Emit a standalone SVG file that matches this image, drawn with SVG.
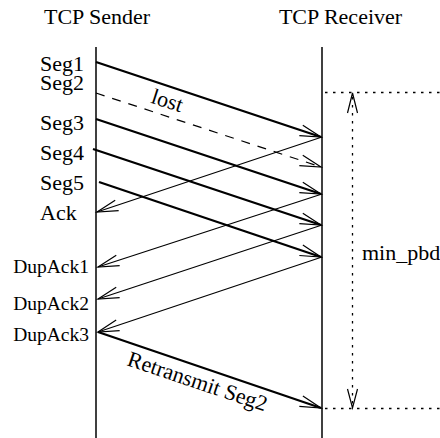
<svg xmlns="http://www.w3.org/2000/svg" width="440" height="438" viewBox="0 0 440 438">
<style>
text{font-family:"Liberation Serif","Times New Roman",serif;fill:#000}
.t{font-size:22px}
.s{font-size:22px}
.d{font-size:19.5px}
.life{stroke:#000;stroke-width:1.5;fill:none}
.thick{stroke:#000;stroke-width:2.3;fill:none;marker-end:url(#ah)}
.thin{stroke:#000;stroke-width:1.2;fill:none;marker-end:url(#ah)}
.dash{stroke:#000;stroke-width:1.2;fill:none;stroke-dasharray:9 8;marker-end:url(#ah)}
.dot{stroke:#000;stroke-width:1.3;fill:none;stroke-dasharray:2.5 5.5}
.head{stroke:#000;stroke-width:1.2;fill:none}
</style>
<defs>
<marker id="ah" markerUnits="userSpaceOnUse" viewBox="-25 -12 30 24" refX="0" refY="0" markerWidth="30" markerHeight="24" orient="auto">
<path d="M-21,-5.5 L0,0 L-21,5.5" stroke="#000" stroke-width="1.2" fill="none"/>
</marker>
</defs>
<rect width="440" height="438" fill="#fff"/>
<g id="sender">
<text class="t" x="97" y="24" text-anchor="middle">TCP Sender</text>
<line class="life" x1="96" y1="47" x2="96" y2="438"/>
</g>
<g id="receiver">
<text class="t" x="340.5" y="24" text-anchor="middle">TCP Receiver</text>
<line class="life" x1="322" y1="47" x2="322" y2="438"/>
</g>
<g id="labels">
<text class="s" x="40" y="71">Seg1</text>
<text class="s" x="40" y="90">Seg2</text>
<text class="s" x="40" y="130">Seg3</text>
<text class="s" x="40" y="160">Seg4</text>
<text class="s" x="40" y="190">Seg5</text>
<text class="s" x="40" y="220">Ack</text>
<text class="d" x="89" y="273" text-anchor="end">DupAck1</text>
<text class="d" x="89" y="310" text-anchor="end">DupAck2</text>
<text class="d" x="89" y="341" text-anchor="end">DupAck3</text>
<text class="s" x="362" y="260">min_pbd</text>
<text class="s" transform="translate(150,102.5) rotate(18)">lost</text>
<text class="s" transform="translate(126,365) rotate(18.6)">Retransmit Seg2</text>
</g>
<g id="connectors">
<line class="thick" x1="96" y1="62" x2="321" y2="137"/>
<line class="dash" x1="96" y1="93" x2="321" y2="167"/>
<line class="thick" x1="96" y1="119" x2="321" y2="194"/>
<line class="thick" x1="93" y1="149" x2="321" y2="225"/>
<line class="thick" x1="99" y1="182" x2="321" y2="257"/>
<line class="thin" x1="322" y1="137" x2="97" y2="212"/>
<line class="thin" x1="322" y1="194" x2="98" y2="267"/>
<line class="thin" x1="322" y1="225" x2="98" y2="299"/>
<line class="thin" x1="322" y1="257" x2="98" y2="332"/>
<line class="thick" x1="98" y1="332" x2="321" y2="408"/>
<line class="dot" x1="325" y1="92.5" x2="440" y2="92.5"/>
<line class="dot" x1="325" y1="408.5" x2="440" y2="408.5"/>
<line class="dot" x1="352.5" y1="97" x2="352.5" y2="404"/>
<path class="head" d="M347.5,113 L352.5,93 L357.5,113"/>
<path class="head" d="M347.5,389 L352.5,408 L357.5,389"/>
</g>
</svg>
